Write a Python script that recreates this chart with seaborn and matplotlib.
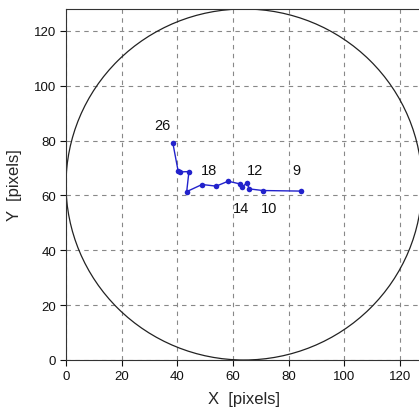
import matplotlib
matplotlib.use("Agg")
import matplotlib.pyplot as plt
import seaborn as sns
import pandas as pd
from matplotlib.patches import Circle

# trajectory points (frame order 9 -> 26)
xs = [84.4, 70.8, 65.9, 65.0, 63.3, 62.6, 58.3, 58.3, 54.0, 48.9, 43.4, 44.2, 41.0, 40.3, 38.4]
ys = [61.6, 61.8, 62.4, 64.6, 63.0, 64.2, 64.6, 65.8, 63.4, 64.0, 61.4, 68.7, 68.6, 69.0, 79.2]

label_texts = ["26", "18", "12", "9", "14", "10"]
label_x = [34.5, 51.4, 68.0, 82.7, 62.9, 73.0]
label_y = [85.8, 69.3, 69.3, 69.3, 55.5, 55.5]

circle_center = (64, 64)
circle_radius = 64

ticks = [0, 20, 40, 60, 80, 100, 120]

sns.set_theme(style="white")
plt.rcParams['font.family'] = ['Liberation Sans', 'DejaVu Sans']

fig = plt.figure(figsize=(4.19, 4.14), dpi=100)
ax = fig.add_axes([66/419, 53/414, 356/419, 351/414])

df = pd.DataFrame({"x": xs, "y": ys})
sns.lineplot(data=df, x="x", y="y", sort=False, ax=ax, color="#2222cc",
             marker="o", markersize=4, markeredgewidth=0, linewidth=1.0, zorder=3)

ax.add_patch(Circle(circle_center, circle_radius, fill=False, edgecolor="#222222", linewidth=0.9, zorder=2))

for t, lx, ly in zip(label_texts, label_x, label_y):
    ax.text(lx, ly, t, fontsize=10.5, ha="center", va="center", color="#111111")

ax.set_xlim(0, 128)
ax.set_ylim(0, 128)
ax.set_xticks(ticks)
ax.set_yticks(ticks)
ax.grid(True, linestyle=(0, (4, 4)), color="#888888", linewidth=0.8)
ax.tick_params(axis="both", direction="out", length=4, width=0.8, labelsize=9.5, colors="#111111", pad=3, left=True, bottom=True)
for s in ax.spines.values():
    s.set_color("#333333")
    s.set_linewidth(0.8)
ax.set_xlabel("X  [pixels]", fontsize=12, labelpad=7)
ax.set_ylabel("Y  [pixels]", fontsize=12, labelpad=9)

fig.savefig("out.png", dpi=100)
